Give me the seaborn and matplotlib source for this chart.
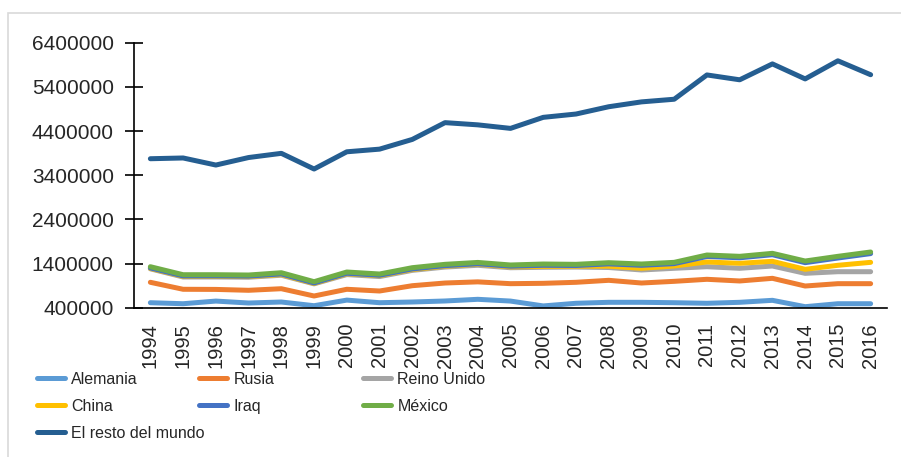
import numpy as np
import pandas as pd
import matplotlib
matplotlib.use("Agg")
import matplotlib.pyplot as plt
from matplotlib.lines import Line2D
from matplotlib.patches import Rectangle
import seaborn as sns

# data
years = [str(y) for y in range(1994, 2017)]
alemania = [513000, 490000, 550000, 506000, 529000, 445000, 572000, 513000, 529000, 552000, 590000, 550000,
            440000, 500000, 522000, 522000, 513000, 500000, 522000, 567000, 423000, 490000, 490000]
rusia = [975000, 817000, 814000, 794000, 830000, 665000, 817000, 778000, 898000, 959000, 985000, 944000,
         952000, 975000, 1020000, 959000, 997000, 1043000, 1005000, 1065000, 891000, 944000, 944000]
reino_unido = [1280000, 1095000, 1095000, 1090000, 1135000, 940000, 1150000, 1105000, 1245000, 1320000,
               1360000, 1305000, 1315000, 1320000, 1310000, 1254000, 1292000, 1328000, 1292000, 1344000,
               1178000, 1215000, 1215000]
china = [1290000, 1110000, 1110000, 1105000, 1150000, 950000, 1170000, 1125000, 1265000, 1340000,
         1385000, 1325000, 1335000, 1340000, 1340000, 1292000, 1344000, 1435000, 1405000, 1450000,
         1269000, 1360000, 1427000]
iraq = [1300000, 1120000, 1120000, 1115000, 1165000, 960000, 1180000, 1135000, 1278000, 1352000,
        1395000, 1340000, 1360000, 1355000, 1392000, 1360000, 1398000, 1560000, 1530000, 1600000,
        1420000, 1525000, 1625000]
mexico = [1328000, 1147000, 1147000, 1140000, 1192000, 989000, 1208000, 1163000, 1306000, 1382000,
          1425000, 1367000, 1389000, 1382000, 1419000, 1389000, 1427000, 1593000, 1563000, 1631000,
          1457000, 1563000, 1661000]
resto = [3773000, 3790000, 3630000, 3800000, 3895000, 3540000, 3930000, 3990000, 4210000, 4590000,
         4540000, 4460000, 4710000, 4785000, 4950000, 5060000, 5120000, 5670000, 5560000, 5920000,
         5580000, 5990000, 5675000]

series_names = ["Alemania", "Rusia", "Reino Unido", "China", "Iraq", "México", "El resto del mundo"]
series_values = [alemania, rusia, reino_unido, china, iraq, mexico, resto]
colors = ["#5B9BD5", "#ED7D31", "#A5A5A5", "#FFC000", "#4472C4", "#70AD47", "#255E91"]
y_ticks = [400000, 1400000, 2400000, 3400000, 4400000, 5400000, 6400000]

df = pd.DataFrame({
    "year": years * len(series_names),
    "serie": [n for n in series_names for _ in years],
    "valor": [v for vals in series_values for v in vals],
})

sns.set_style("white")
plt.rcParams["font.family"] = ["Liberation Sans", "DejaVu Sans"]

fig = plt.figure(figsize=(9.01, 4.57), dpi=100)
ax = fig.add_axes([134 / 901, 149.3 / 457, 753 / 901, 265 / 457])

# outer chart border
fig.patches.append(Rectangle((8.3 / 901, -0.1), 1.2, (457 - 13.3) / 457 + 0.1,
                             transform=fig.transFigure, fill=False,
                             edgecolor="#D9D9D9", lw=1.2, zorder=0))

lw = 3.6
sns.lineplot(data=df, x="year", y="valor", hue="serie", hue_order=series_names,
             palette=colors, linewidth=lw, sort=False, legend=False, ax=ax)
for line in ax.get_lines():
    line.set_solid_capstyle("round")
    line.set_solid_joinstyle("round")

ax.set_xlim(-0.5, len(years) - 0.5)
ax.set_ylim(y_ticks[0], y_ticks[-1])
ax.set_yticks(y_ticks)
ax.set_yticklabels([str(t) for t in y_ticks])
ax.set_xticks(range(len(years)))
ax.set_xticklabels(years, rotation=90)
ax.set_xticks(np.arange(-0.5, len(years), 1.0), minor=True)
ax.tick_params(axis="x", which="major", length=0, pad=11, labelsize=14.5)
ax.tick_params(axis="x", which="minor", direction="inout", length=11, width=1.2, color="black")
ax.tick_params(axis="y", direction="inout", length=13, width=1.2, pad=8, labelsize=15,
               color="black", left=True)
ax.set_xlabel("")
ax.set_ylabel("")
for s in ["top", "right"]:
    ax.spines[s].set_visible(False)
for s in ["left", "bottom"]:
    ax.spines[s].set_color("black")
    ax.spines[s].set_linewidth(1.2)

# legend: three columns, rows filled left to right
col_x = [36.7, 199, 363]
row_y = [381.7, 409.3, 436.7]
cols = [[0, 3, 6], [1, 4], [2, 5]]
for ci, idx in enumerate(cols):
    handles = [Line2D([], [], color=colors[i], lw=lw, solid_capstyle="round") for i in idx]
    labels = [series_names[i] for i in idx]
    fig.legend(handles, labels, loc="upper left",
               bbox_to_anchor=(col_x[ci] / 901, 1 - (row_y[0] - 10) / 457),
               frameon=False, borderpad=0, borderaxespad=0, handlelength=1.75,
               handletextpad=0.4, labelspacing=0.75,
               prop={"size": 11.5})

fig.savefig("out.png", dpi=100)
